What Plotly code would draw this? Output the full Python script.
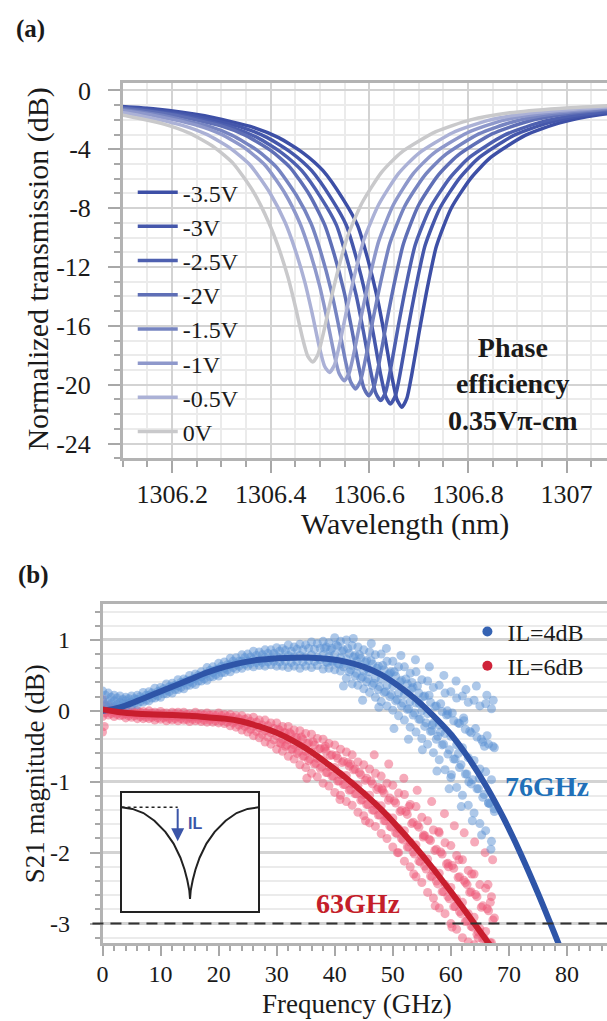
import plotly.graph_objects as go

W, H = 607, 1021


def px(x):
    return x / W


def py(y):
    return 1 - y / H


# ---------------- Panel (a): resonance dips ----------------
voltages = ["-3.5V", "-3V", "-2.5V", "-2V", "-1.5V", "-1V", "-0.5V", "0V"]
colors_a = ["#3d4fa6", "#4557ab", "#4e60b0", "#5f6fb6", "#7684c1", "#8e98cb", "#abb1d6", "#c9c9cb"]

wl_m35 = [1306.046, 1306.166, 1306.266, 1306.366, 1306.416, 1306.466, 1306.506, 1306.546, 1306.576, 1306.596,
          1306.616, 1306.631, 1306.646, 1306.656, 1306.666, 1306.676, 1306.686, 1306.701, 1306.716, 1306.736,
          1306.766, 1306.806, 1306.846, 1306.916, 1306.986, 1307.066, 1307.166, 1307.286]
db_m35 = [-0.98, -1.25, -1.72, -2.52, -3.20, -4.25, -5.45, -7.35, -9.16, -11.36, -14.08, -16.66, -19.51, -21.00,
          -21.52, -20.93, -19.31, -16.41, -13.69, -10.59, -8.00, -5.95, -4.55, -3.05, -2.20, -1.65, -1.30, -1.05]

wl_m30 = [1306.023, 1306.143, 1306.243, 1306.343, 1306.393, 1306.443, 1306.483, 1306.523, 1306.553, 1306.573,
          1306.593, 1306.608, 1306.623, 1306.633, 1306.643, 1306.653, 1306.663, 1306.678, 1306.693, 1306.713,
          1306.743, 1306.783, 1306.823, 1306.893, 1306.963, 1307.043, 1307.143, 1307.263]
db_m30 = [-0.98, -1.25, -1.72, -2.52, -3.20, -4.25, -5.45, -7.35, -9.14, -11.31, -13.98, -16.52, -19.32, -20.78,
          -21.30, -20.72, -19.13, -16.27, -13.60, -10.54, -8.00, -5.95, -4.55, -3.05, -2.20, -1.65, -1.30, -1.05]

wl_m25 = [1306.003, 1306.123, 1306.223, 1306.323, 1306.373, 1306.423, 1306.463, 1306.503, 1306.533, 1306.553,
          1306.573, 1306.588, 1306.603, 1306.613, 1306.623, 1306.633, 1306.643, 1306.658, 1306.673, 1306.693,
          1306.723, 1306.763, 1306.803, 1306.873, 1306.943, 1307.023, 1307.123, 1307.243]
db_m25 = [-0.98, -1.25, -1.72, -2.52, -3.20, -4.25, -5.45, -7.35, -9.13, -11.25, -13.88, -16.38, -19.13, -20.56,
          -21.07, -20.50, -18.94, -16.13, -13.50, -10.50, -8.00, -5.95, -4.55, -3.05, -2.20, -1.65, -1.30, -1.05]

wl_m20 = [1305.979, 1306.099, 1306.199, 1306.299, 1306.349, 1306.399, 1306.439, 1306.479, 1306.509, 1306.529,
          1306.549, 1306.564, 1306.579, 1306.589, 1306.599, 1306.609, 1306.619, 1306.634, 1306.649, 1306.669,
          1306.699, 1306.739, 1306.779, 1306.849, 1306.919, 1306.999, 1307.099, 1307.219]
db_m20 = [-0.95, -1.20, -1.65, -2.41, -3.05, -4.05, -5.22, -7.12, -9.10, -11.17, -13.72, -16.16, -18.84, -20.24,
          -20.74, -20.18, -18.66, -15.92, -13.36, -10.44, -7.85, -5.78, -4.42, -2.95, -2.12, -1.60, -1.27, -1.03]

wl_m15 = [1305.952, 1306.072, 1306.172, 1306.272, 1306.322, 1306.372, 1306.412, 1306.452, 1306.482, 1306.502,
          1306.522, 1306.537, 1306.552, 1306.562, 1306.572, 1306.582, 1306.592, 1306.607, 1306.622, 1306.642,
          1306.672, 1306.712, 1306.752, 1306.822, 1306.892, 1306.972, 1307.072, 1307.192]
db_m15 = [-0.95, -1.20, -1.65, -2.41, -3.05, -4.05, -5.22, -7.12, -9.06, -11.05, -13.52, -15.87, -18.45, -19.80,
          -20.28, -19.74, -18.27, -15.63, -13.17, -10.35, -7.85, -5.78, -4.42, -2.95, -2.12, -1.60, -1.27, -1.03]

wl_m10 = [1305.929, 1306.049, 1306.149, 1306.249, 1306.299, 1306.349, 1306.389, 1306.429, 1306.459, 1306.479,
          1306.499, 1306.514, 1306.529, 1306.539, 1306.549, 1306.559, 1306.569, 1306.584, 1306.599, 1306.619,
          1306.649, 1306.689, 1306.729, 1306.799, 1306.869, 1306.949, 1307.049, 1307.169]
db_m10 = [-0.93, -1.17, -1.61, -2.35, -2.97, -3.95, -5.10, -7.00, -9.01, -10.91, -13.26, -15.50, -17.97, -19.26,
          -19.72, -19.20, -17.80, -15.28, -12.93, -10.24, -7.75, -5.65, -4.30, -2.87, -2.05, -1.56, -1.25, -1.01]

wl_m05 = [1305.899, 1306.019, 1306.119, 1306.219, 1306.269, 1306.319, 1306.359, 1306.399, 1306.429, 1306.449,
          1306.469, 1306.484, 1306.499, 1306.509, 1306.519, 1306.529, 1306.539, 1306.554, 1306.569, 1306.589,
          1306.619, 1306.659, 1306.699, 1306.769, 1306.839, 1306.919, 1307.019, 1307.139]
db_m05 = [-0.93, -1.17, -1.61, -2.35, -2.97, -3.95, -5.10, -7.00, -8.96, -10.77, -13.01, -15.15, -17.50, -18.72,
          -19.16, -18.67, -17.34, -14.94, -12.69, -10.13, -7.75, -5.65, -4.30, -2.87, -2.05, -1.56, -1.25, -1.01]

wl_0 = [1305.865, 1305.985, 1306.085, 1306.185, 1306.235, 1306.285, 1306.325, 1306.365, 1306.395, 1306.415,
        1306.435, 1306.450, 1306.465, 1306.475, 1306.485, 1306.495, 1306.505, 1306.520, 1306.535, 1306.555,
        1306.585, 1306.625, 1306.665, 1306.735, 1306.805, 1306.885, 1306.985, 1307.105]
db_0 = [-0.92, -1.15, -1.58, -2.30, -2.90, -3.85, -5.00, -6.90, -8.90, -10.60, -12.70, -14.70, -16.90, -18.05,
        -18.46, -18.00, -16.75, -14.50, -12.40, -10.00, -7.65, -5.55, -4.20, -2.80, -2.00, -1.52, -1.22, -1.00]

curves_wl = [wl_m35, wl_m30, wl_m25, wl_m20, wl_m15, wl_m10, wl_m05, wl_0]
curves_db = [db_m35, db_m30, db_m25, db_m20, db_m15, db_m10, db_m05, db_0]

wl_tickvals = [1306.2, 1306.4, 1306.6, 1306.8, 1307.0]
wl_ticktext = ["1306.2", "1306.4", "1306.6", "1306.8", "1307"]
tr_tickvals = [0, -4, -8, -12, -16, -20, -24]
tr_ticktext = ["0", "-4", "-8", "-12", "-16", "-20", "-24"]

# ---------------- Panel (b): S21 ----------------
series_names = ["IL=4dB", "IL=6dB"]
freq_int = [0, 1, 2, 3, 4, 5, 6, 7, 8, 9, 10, 11, 12, 13, 14, 15, 16, 17, 18, 19, 20, 21, 22, 23, 24, 25, 26, 27,
            28, 29, 30, 31, 32, 33, 34, 35, 36, 37, 38, 39, 40, 41, 42, 43, 44, 45, 46, 47, 48, 49, 50, 51, 52, 53,
            54, 55, 56, 57, 58, 59, 60, 61, 62, 63, 64, 65, 66, 67]
freq_half = [0.5, 1.5, 2.5, 3.5, 4.5, 5.5, 6.5, 7.5, 8.5, 9.5, 10.5, 11.5, 12.5, 13.5, 14.5, 15.5, 16.5, 17.5, 18.5,
             19.5, 20.5, 21.5, 22.5, 23.5, 24.5, 25.5, 26.5, 27.5, 28.5, 29.5, 30.5, 31.5, 32.5, 33.5, 34.5, 35.5,
             36.5, 37.5, 38.5, 39.5, 40.5, 41.5, 42.5, 43.5, 44.5, 45.5, 46.5, 47.5, 48.5, 49.5, 50.5, 51.5, 52.5,
             53.5, 54.5, 55.5, 56.5, 57.5, 58.5, 59.5, 60.5, 61.5, 62.5, 63.5, 64.5, 65.5, 66.5, 67.5]
freq_b_q1 = [38.25, 39.25, 40.25, 41.25, 42.25, 43.25, 44.25, 45.25, 46.25, 47.25, 48.25, 49.25, 50.25, 51.25,
             52.25, 53.25, 54.25, 55.25, 56.25, 57.25, 58.25, 59.25, 60.25, 61.25, 62.25, 63.25, 64.25, 65.25,
             66.25, 67.25]
freq_b_q3 = [38.75, 39.75, 40.75, 41.75, 42.75, 43.75, 44.75, 45.75, 46.75, 47.75, 48.75, 49.75, 50.75, 51.75,
             52.75, 53.75, 54.75, 55.75, 56.75, 57.75, 58.75, 59.75, 60.75, 61.75, 62.75, 63.75, 64.75, 65.75,
             66.75, 67.45]
freq_r_q1 = [30.25, 31.25, 32.25, 33.25, 34.25, 35.25, 36.25, 37.25, 38.25, 39.25, 40.25, 41.25, 42.25, 43.25,
             44.25, 45.25, 46.25, 47.25, 48.25, 49.25, 50.25, 51.25, 52.25, 53.25, 54.25, 55.25, 56.25, 57.25,
             58.25, 59.25, 60.25, 61.25, 62.25, 63.25, 64.25, 65.25, 66.25, 67.25]
freq_r_q3 = [30.75, 31.75, 32.75, 33.75, 34.75, 35.75, 36.75, 37.75, 38.75, 39.75, 40.75, 41.75, 42.75, 43.75,
             44.75, 45.75, 46.75, 47.75, 48.75, 49.75, 50.75, 51.75, 52.75, 53.75, 54.75, 55.75, 56.75, 57.75,
             58.75, 59.75, 60.75, 61.75, 62.75, 63.75, 64.75, 65.75, 66.75, 67.45]

blue_hi = [0.28, 0.25, 0.22, 0.21, 0.19, 0.21, 0.22, 0.26, 0.27, 0.32,
           0.33, 0.38, 0.39, 0.44, 0.45, 0.50, 0.52, 0.55, 0.61, 0.62,
           0.67, 0.69, 0.74, 0.75, 0.79, 0.80, 0.84, 0.83, 0.86, 0.86,
           0.89, 0.88, 0.93, 0.90, 0.94, 0.93, 0.97, 0.95, 0.98, 0.96,
           1.03, 0.98, 1.00, 0.92, 0.90, 0.86, 0.83, 0.79, 0.80, 0.70,
           0.70, 0.62, 0.62, 0.53, 0.55, 0.44, 0.42, 0.33, 0.36, 0.25,
           0.27, 0.18, 0.21, 0.12, 0.15, 0.07, 0.10, 0.03]
blue_mid = [0.15, 0.13, 0.14, 0.12, 0.14, 0.12, 0.16, 0.17, 0.22, 0.23,
            0.28, 0.29, 0.34, 0.35, 0.40, 0.41, 0.46, 0.48, 0.53, 0.54,
            0.59, 0.60, 0.65, 0.66, 0.70, 0.70, 0.73, 0.71, 0.75, 0.74,
            0.77, 0.75, 0.78, 0.76, 0.78, 0.76, 0.79, 0.76, 0.79, 0.77,
            0.79, 0.75, 0.73, 0.64, 0.63, 0.56, 0.55, 0.46, 0.45, 0.36,
            0.35, 0.25, 0.23, 0.13, 0.11, 0.00, -0.04, -0.17, -0.20, -0.32,
            -0.36, -0.48, -0.52, -0.66, -0.70, -0.82, -0.86, -0.97]
blue_lo = [0.03, 0.05, 0.06, 0.07, 0.06, 0.08, 0.09, 0.12, 0.14, 0.18,
           0.19, 0.24, 0.25, 0.30, 0.31, 0.36, 0.37, 0.42, 0.43, 0.48,
           0.49, 0.54, 0.55, 0.59, 0.60, 0.63, 0.62, 0.64, 0.63, 0.65,
           0.63, 0.63, 0.61, 0.63, 0.60, 0.63, 0.61, 0.64, 0.59, 0.60,
           0.58, 0.56, 0.46, 0.38, 0.36, 0.31, 0.26, 0.19, 0.13, 0.07,
           0.01, -0.07, -0.13, -0.23, -0.30, -0.39, -0.47, -0.59, -0.69, -0.83,
           -0.94, -1.08, -1.19, -1.33, -1.44, -1.59, -1.69, -1.84]
blue_uq = [0.22, 0.19, 0.18, 0.16, 0.17, 0.17, 0.20, 0.22, 0.25, 0.27,
           0.31, 0.34, 0.36, 0.40, 0.43, 0.45, 0.50, 0.51, 0.57, 0.58,
           0.63, 0.65, 0.70, 0.70, 0.75, 0.76, 0.78, 0.79, 0.81, 0.81,
           0.84, 0.85, 0.84, 0.87, 0.86, 0.88, 0.87, 0.88, 0.90, 0.88,
           0.91, 0.86, 0.81, 0.78, 0.74, 0.71, 0.66, 0.63, 0.58, 0.53,
           0.49, 0.43, 0.38, 0.33, 0.25, 0.21, 0.12, 0.07, -0.01, -0.05,
           -0.14, -0.18, -0.26, -0.31, -0.37, -0.44, -0.47, -0.52]
blue_lq = [0.09, 0.10, 0.09, 0.10, 0.10, 0.11, 0.13, 0.15, 0.18, 0.21,
           0.24, 0.27, 0.30, 0.33, 0.36, 0.39, 0.42, 0.45, 0.48, 0.51,
           0.54, 0.58, 0.61, 0.63, 0.66, 0.67, 0.68, 0.68, 0.69, 0.70,
           0.69, 0.70, 0.68, 0.70, 0.69, 0.71, 0.70, 0.72, 0.69, 0.70,
           0.67, 0.62, 0.55, 0.49, 0.46, 0.41, 0.36, 0.30, 0.26, 0.20,
           0.14, 0.07, 0.02, -0.06, -0.12, -0.22, -0.29, -0.40, -0.48, -0.61,
           -0.68, -0.80, -0.89, -1.03, -1.10, -1.22, -1.30, -1.42]
blue_q1 = [0.88, 0.85, 0.93, 0.84, 0.88, 0.76, 0.79, 0.69, 0.71, 0.60, 0.64, 0.51, 0.55, 0.41, 0.45, 0.31, 0.35,
           0.20, 0.22, 0.06, 0.10, -0.06, -0.03, -0.17, -0.14, -0.29, -0.25, -0.40, -0.35, -0.50]
blue_q3 = [0.68, 0.70, 0.66, 0.67, 0.58, 0.53, 0.48, 0.45, 0.39, 0.34, 0.27, 0.23, 0.16, 0.11, 0.03, -0.03, -0.12,
           -0.17, -0.28, -0.36, -0.47, -0.55, -0.68, -0.76, -0.89, -0.97, -1.10, -1.18, -1.31, -1.38]
blue_sparse_f = [41.5, 43.2, 44.8, 46.3, 47.6, 48.9, 50.2, 51.4, 52.7, 53.9, 55.1, 56.3, 57.6, 58.8, 59.7, 60.9,
                 61.8, 62.6, 63.7, 64.4, 65.3, 66.2, 66.9, 67.3, 54.6, 58.2, 61.3, 64.9, 66.5, 56.8, 60.1, 63.1,
                 65.8, 62.2, 59.4, 53.3, 49.7, 45.6, 43.8]
blue_sparse_db = [0.35, 1.02, 0.15, 0.95, 0.05, 0.88, -0.25, 0.78, -0.40, 0.72, -0.55, 0.62, -0.85, 0.50, -1.10,
                  0.42, -1.35, 0.30, -1.55, 0.35, -1.75, 0.22, -1.95, 0.15, 0.10, -0.30, -0.60, -0.95, -1.30, -0.20,
                  -0.90, -1.00, -0.50, -0.10, 0.00, 0.40, 0.55, 0.60, 0.70]

red_hi = [0.16, 0.08, 0.04, 0.03, 0.01, 0.01, 0.00, -0.01, 0.00, -0.02,
          -0.01, -0.03, -0.02, -0.02, -0.02, -0.04, -0.02, -0.04, -0.03, -0.05,
          -0.03, -0.05, -0.05, -0.07, -0.07, -0.10, -0.09, -0.13, -0.13, -0.17,
          -0.17, -0.22, -0.22, -0.27, -0.28, -0.32, -0.33, -0.39, -0.40, -0.46,
          -0.48, -0.54, -0.58, -0.62, -0.72, -0.76, -0.82, -0.88, -0.92, -1.02,
          -1.05, -1.16, -1.18, -1.32, -1.35, -1.50, -1.55, -1.68, -1.72, -1.86,
          -1.90, -2.04, -2.10, -2.25, -2.30, -2.45, -2.50, -2.62]
red_mid = [0.03, 0.00, -0.02, -0.02, -0.04, -0.04, -0.05, -0.06, -0.05, -0.07,
           -0.06, -0.08, -0.07, -0.08, -0.07, -0.09, -0.08, -0.09, -0.09, -0.10,
           -0.10, -0.11, -0.13, -0.14, -0.17, -0.19, -0.22, -0.24, -0.28, -0.31,
           -0.35, -0.40, -0.41, -0.48, -0.49, -0.57, -0.58, -0.67, -0.69, -0.79,
           -0.80, -0.90, -0.91, -1.03, -1.05, -1.18, -1.19, -1.32, -1.34, -1.49,
           -1.51, -1.66, -1.69, -1.85, -1.89, -2.05, -2.09, -2.25, -2.29, -2.45,
           -2.49, -2.65, -2.70, -2.86, -2.91, -3.07, -3.11, -3.27]
red_lo = [-0.08, -0.06, -0.08, -0.07, -0.10, -0.09, -0.11, -0.11, -0.11, -0.13,
          -0.12, -0.14, -0.13, -0.14, -0.13, -0.15, -0.14, -0.15, -0.16, -0.16,
          -0.17, -0.18, -0.21, -0.23, -0.27, -0.30, -0.35, -0.38, -0.44, -0.47,
          -0.54, -0.57, -0.64, -0.68, -0.76, -0.80, -0.88, -0.93, -1.02, -1.06,
          -1.15, -1.19, -1.28, -1.33, -1.43, -1.48, -1.58, -1.63, -1.73, -1.80,
          -1.92, -2.00, -2.12, -2.20, -2.34, -2.42, -2.56, -2.64, -2.78, -2.86,
          -3.00, -3.08, -3.20, -3.26, -3.30, -3.36, -3.40, -3.45]
red_uq = [0.07, 0.03, 0.01, 0.00, -0.01, -0.02, -0.02, -0.03, -0.03, -0.04,
          -0.04, -0.05, -0.04, -0.05, -0.05, -0.06, -0.05, -0.06, -0.06, -0.07,
          -0.07, -0.08, -0.09, -0.11, -0.12, -0.15, -0.16, -0.20, -0.21, -0.25,
          -0.27, -0.31, -0.33, -0.38, -0.40, -0.45, -0.48, -0.53, -0.57, -0.62,
          -0.67, -0.71, -0.78, -0.82, -0.90, -0.95, -1.03, -1.08, -1.16, -1.23,
          -1.30, -1.40, -1.46, -1.57, -1.64, -1.76, -1.83, -1.95, -2.02, -2.15,
          -2.22, -2.34, -2.42, -2.55, -2.62, -2.75, -2.82, -2.92]
red_lq = [-0.03, -0.04, -0.05, -0.06, -0.07, -0.07, -0.08, -0.09, -0.09, -0.10,
          -0.10, -0.11, -0.11, -0.11, -0.12, -0.12, -0.12, -0.13, -0.13, -0.14,
          -0.14, -0.16, -0.17, -0.20, -0.22, -0.26, -0.29, -0.33, -0.37, -0.41,
          -0.45, -0.50, -0.54, -0.60, -0.64, -0.70, -0.75, -0.81, -0.87, -0.92,
          -0.99, -1.04, -1.12, -1.17, -1.26, -1.32, -1.40, -1.47, -1.55, -1.63,
          -1.72, -1.80, -1.92, -1.99, -2.12, -2.19, -2.33, -2.40, -2.55, -2.62,
          -2.76, -2.83, -2.97, -3.04, -3.15, -3.22, -3.30, -3.35]
red_q1 = [-0.26, -0.31, -0.31, -0.38, -0.37, -0.46, -0.44, -0.54, -0.53, -0.63, -0.63, -0.73, -0.73, -0.83, -0.87,
          -0.98, -0.99, -1.11, -1.12, -1.26, -1.27, -1.42, -1.42, -1.59, -1.61, -1.78, -1.81, -1.97, -1.99, -2.16,
          -2.18, -2.35, -2.39, -2.56, -2.59, -2.77, -2.79, -2.95]
red_q3 = [-0.46, -0.48, -0.54, -0.57, -0.64, -0.68, -0.74, -0.79, -0.87, -0.92, -0.99, -1.04, -1.11, -1.17, -1.25,
          -1.32, -1.40, -1.47, -1.55, -1.64, -1.73, -1.82, -1.92, -2.02, -2.13, -2.23, -2.34, -2.44, -2.55, -2.65,
          -2.76, -2.86, -2.96, -3.05, -3.12, -3.21, -3.27, -3.35]
red_sparse_f = [0.0, 0.3, 46.8, 49.3, 51.9, 54.2, 56.7, 58.9, 60.6, 62.3, 64.1, 65.9, 67.2, 52.8, 57.9, 61.4,
                63.6, 66.4, 59.6, 55.3, 48.1, 42.7, 38.4, 35.2, 40.9, 45.3, 50.8, 53.6, 57.3, 60.2, 64.7, 66.8, 62.8]
red_sparse_db = [-0.30, -0.22, -0.62, -0.75, -0.95, -1.12, -1.28, -1.45, -1.62, -1.72, -1.85, -2.00, -2.10, -1.35,
                 -1.70, -2.10, -2.30, -2.45, -2.20, -1.75, -1.10, -0.75, -0.50, -0.95, -1.25, -1.55, -2.00, -2.30,
                 -2.75, -3.05, -3.20, -2.70, -2.45]

fit_f_blue = [0, 3, 6, 9, 12, 15, 18, 21, 24, 27, 30, 33, 36, 39, 42, 45, 48, 51, 54, 57, 60, 63, 66, 69, 72, 75,
              78, 80]
fit_blue = [0.00, 0.05, 0.14, 0.24, 0.34, 0.44, 0.54, 0.62, 0.68, 0.72, 0.74, 0.75, 0.75, 0.73, 0.69, 0.62, 0.51,
            0.35, 0.16, -0.07, -0.33, -0.66, -1.05, -1.50, -2.01, -2.57, -3.17, -3.58]
fit_f_red = [0, 3, 6, 9, 12, 15, 18, 21, 24, 27, 30, 33, 36, 39, 42, 45, 48, 51, 54, 57, 60, 63, 66, 68]
fit_red = [0.02, -0.02, -0.04, -0.05, -0.06, -0.07, -0.09, -0.11, -0.15, -0.22, -0.31, -0.43, -0.58, -0.76, -0.95,
           -1.16, -1.39, -1.65, -1.93, -2.23, -2.55, -2.88, -3.22, -3.45]

f_tickvals = [0, 10, 20, 30, 40, 50, 60, 70, 80]
s_tickvals = [1, 0, -1, -2, -3]
s_ticktext = ["1", "0", "-1", "-2", "-3"]
threshold_db = -3

# inset schematic (normalized units)
inset_x = [0.0, 0.08, 0.16, 0.24, 0.32, 0.38, 0.43, 0.46, 0.48, 0.495, 0.50, 0.505, 0.52, 0.54, 0.57, 0.62,
           0.68, 0.76, 0.84, 0.92, 1.0]
inset_y = [0.879, 0.865, 0.83, 0.765, 0.67, 0.57, 0.45, 0.35, 0.26, 0.17, 0.10, 0.17, 0.26, 0.35, 0.45, 0.57,
           0.67, 0.765, 0.83, 0.865, 0.879]
il_x = 0.41
il_top = 0.879
il_tip = 0.59
inset_dot_x = [0.0, 0.41]
inset_dot_y = [0.879, 0.879]

blue_pt = "#5b92d4"
red_pt = "#ee5676"
blue_fit_c = "#2e55a8"
red_fit_c = "#c81e2e"

SERIF = "Liberation Serif"

fig = go.Figure()

for name, wl, db, col in zip(voltages, curves_wl, curves_db, colors_a):
    fig.add_trace(go.Scatter(x=wl, y=db, mode="lines", name=name,
                             line=dict(color=col, width=3.5, shape="spline", smoothing=0.6),
                             xaxis="x", yaxis="y", legend="legend"))

red_sets = [(freq_int, red_hi), (freq_int, red_mid), (freq_int, red_lo), (freq_half, red_uq),
            (freq_half, red_lq), (freq_r_q1, red_q1), (freq_r_q3, red_q3), (red_sparse_f, red_sparse_db)]
blue_sets = [(freq_int, blue_hi), (freq_int, blue_mid), (freq_int, blue_lo), (freq_half, blue_uq),
             (freq_half, blue_lq), (freq_b_q1, blue_q1), (freq_b_q3, blue_q3), (blue_sparse_f, blue_sparse_db)]
for xs, ys in red_sets:
    fig.add_trace(go.Scatter(x=xs, y=ys, mode="markers", showlegend=False, hoverinfo="skip",
                             marker=dict(color=red_pt, size=9, opacity=0.5, line=dict(width=0)),
                             xaxis="x2", yaxis="y2"))
for xs, ys in blue_sets:
    fig.add_trace(go.Scatter(x=xs, y=ys, mode="markers", showlegend=False, hoverinfo="skip",
                             marker=dict(color=blue_pt, size=9, opacity=0.5, line=dict(width=0)),
                             xaxis="x2", yaxis="y2"))

fig.add_trace(go.Scatter(x=fit_f_blue, y=fit_blue, mode="lines", showlegend=False,
                         line=dict(color=blue_fit_c, width=6, shape="spline"), xaxis="x2", yaxis="y2"))
fig.add_trace(go.Scatter(x=fit_f_red, y=fit_red, mode="lines", showlegend=False,
                         line=dict(color=red_fit_c, width=6, shape="spline"), xaxis="x2", yaxis="y2"))

# legend proxies for panel (b)
for name, col in zip(series_names, ["#3563b3", "#cf2238"]):
    fig.add_trace(go.Scatter(x=[None], y=[None], mode="markers", name=name,
                             marker=dict(color=col, size=10), xaxis="x2", yaxis="y2", legend="legend2"))

# inset
fig.add_trace(go.Scatter(x=inset_x, y=inset_y, mode="lines", showlegend=False,
                         line=dict(color="#222222", width=2), xaxis="x3", yaxis="y3"))
fig.add_trace(go.Scatter(x=inset_dot_x, y=inset_dot_y, mode="lines", showlegend=False,
                         line=dict(color="#222222", width=1.5, dash="dot"), xaxis="x3", yaxis="y3"))

axis_line = "#b3b3b3"
tick_c = "#a8a8a8"
major_grid = "#d3d3d3"
minor_grid = "#ebebeb"

fig.update_layout(
    width=W, height=H, margin=dict(l=0, r=0, t=0, b=0),
    paper_bgcolor="white", plot_bgcolor="white",
    font=dict(family=SERIF, color="#1a1a1a"),
    xaxis=dict(domain=[px(118), 1], range=[1306.1, 1307.082], anchor="y",
               tickmode="array", tickvals=wl_tickvals, ticktext=wl_ticktext,
               ticks="outside", ticklen=12, tickwidth=2, tickcolor=tick_c,
               showline=True, linecolor=axis_line, linewidth=2.5, mirror=True,
               showgrid=True, gridcolor=major_grid, gridwidth=2, zeroline=False,
               tickfont=dict(size=26, family=SERIF, color="#1a1a1a"), ticklabelstandoff=-1,
               minor=dict(tickmode="linear", tick0=1306.1, dtick=0.05, ticks="outside", ticklen=6,
                          tickwidth=2, tickcolor=tick_c, showgrid=True, gridcolor=minor_grid, gridwidth=1.5)),
    yaxis=dict(domain=[py(455), py(77)], range=[-25, 0.54], anchor="x",
               tickmode="array", tickvals=tr_tickvals, ticktext=tr_ticktext,
               ticks="outside", ticklen=12, tickwidth=2, tickcolor=tick_c,
               showline=True, linecolor=axis_line, linewidth=2.5,
               showgrid=True, gridcolor=major_grid, gridwidth=2, zeroline=False,
               tickfont=dict(size=26, family=SERIF, color="#1a1a1a"), ticklabelstandoff=12,
               minor=dict(tickmode="linear", tick0=0, dtick=1, ticks="outside", ticklen=6,
                          tickwidth=2, tickcolor=tick_c, showgrid=True, gridcolor=minor_grid, gridwidth=1.5)),
    xaxis2=dict(domain=[px(97.5), 1], range=[0, 86.9], anchor="y2",
                tickmode="array", tickvals=f_tickvals,
                ticks="outside", ticklen=10, tickwidth=2, tickcolor=tick_c,
                showline=True, linecolor=axis_line, linewidth=2.5, mirror=True,
                showgrid=False, zeroline=False,
                tickfont=dict(size=24, family=SERIF, color="#1a1a1a"), ticklabelstandoff=-3,
                minor=dict(tickmode="linear", tick0=0, dtick=2, ticks="outside", ticklen=5,
                           tickwidth=2, tickcolor=tick_c, showgrid=False)),
    yaxis2=dict(domain=[py(943), py(602)], range=[-3.28, 1.5], anchor="x2",
                tickmode="array", tickvals=s_tickvals, ticktext=s_ticktext,
                ticks="outside", ticklen=10, tickwidth=2, tickcolor=tick_c,
                showline=True, linecolor=axis_line, linewidth=2.5,
                showgrid=True, gridcolor=major_grid, gridwidth=2.5, zeroline=False,
                tickfont=dict(size=24, family=SERIF, color="#1a1a1a"), ticklabelstandoff=15,
                minor=dict(tickmode="linear", tick0=0, dtick=0.2, ticks="outside", ticklen=5,
                           tickwidth=2, tickcolor=tick_c, showgrid=True, gridcolor=minor_grid, gridwidth=2)),
    xaxis3=dict(domain=[px(116.7), px(255)], range=[0, 1], anchor="y3", showgrid=False, zeroline=False,
                showticklabels=False, ticks="", showline=True, mirror=True, linecolor="#222222", linewidth=2),
    yaxis3=dict(domain=[py(910), py(791.7)], range=[0, 1], anchor="x3", showgrid=False, zeroline=False,
                showticklabels=False, ticks="", showline=True, mirror=True, linecolor="#222222", linewidth=2),
    legend=dict(x=px(128), y=py(165), xanchor="left", yanchor="top", bgcolor="rgba(0,0,0,0)",
                font=dict(size=24, family=SERIF, color="#1a1a1a"), itemwidth=40, tracegroupgap=0),
    legend2=dict(x=px(466), y=py(607), xanchor="left", yanchor="top", bgcolor="rgba(0,0,0,0)",
                 font=dict(size=24, family=SERIF, color="#1a1a1a")),
    showlegend=True,
)

fig.add_shape(type="line", xref="x2 domain", yref="y2", x0=-0.02, x1=1, y0=threshold_db, y1=threshold_db,
              line=dict(color="#333333", width=2, dash="11px,7px"))

ann = [
    dict(text="<b>(a)</b>", x=px(8), y=py(23), xanchor="left", yanchor="middle", font=dict(size=25)),
    dict(text="<b>(b)</b>", x=px(10), y=py(572), xanchor="left", yanchor="middle", font=dict(size=25)),
    dict(text="Normalized transmission (dB)", x=px(32.5), y=py(265), textangle=-90,
         xanchor="center", yanchor="middle", font=dict(size=30)),
    dict(text="Wavelength (nm)", x=px(403), y=py(521), xanchor="center", yanchor="middle", font=dict(size=30)),
    dict(text="S21 magnitude (dB)", x=px(30), y=py(772), textangle=-90,
         xanchor="center", yanchor="middle", font=dict(size=27)),
    dict(text="Frequency (GHz)", x=px(355), y=py(1004), xanchor="center", yanchor="middle", font=dict(size=27)),
    dict(text="<b>Phase<br>efficiency<br>0.35V\u03c0-cm</b>", x=px(512), y=py(380), xanchor="center",
         yanchor="middle", align="center", font=dict(size=28)),
    dict(text="<b>76GHz</b>", x=px(546), y=py(785), xanchor="center", yanchor="middle",
         font=dict(size=28, color="#2170b8")),
    dict(text="<b>63GHz</b>", x=px(356), y=py(903), xanchor="center", yanchor="middle",
         font=dict(size=28, color="#c41e2a")),
]
for a in ann:
    a.update(xref="paper", yref="paper", showarrow=False)
    fig.add_annotation(**a)

fig.add_annotation(xref="x3", yref="y3", axref="x3", ayref="y3", x=il_x, y=il_tip, ax=il_x, ay=il_top,
                   text="", showarrow=True, arrowhead=2, arrowsize=1.3, arrowwidth=2, arrowcolor="#3b55a8")
fig.add_annotation(xref="x3", yref="y3", x=0.535, y=0.74, text="<b>IL</b>", showarrow=False,
                   font=dict(family="Liberation Sans", size=16, color="#3b55a8"))

fig.write_html("out.html", config={"displayModeBar": False},
               post_script="document.body.style.margin='0px';document.body.style.overflow='hidden';")
